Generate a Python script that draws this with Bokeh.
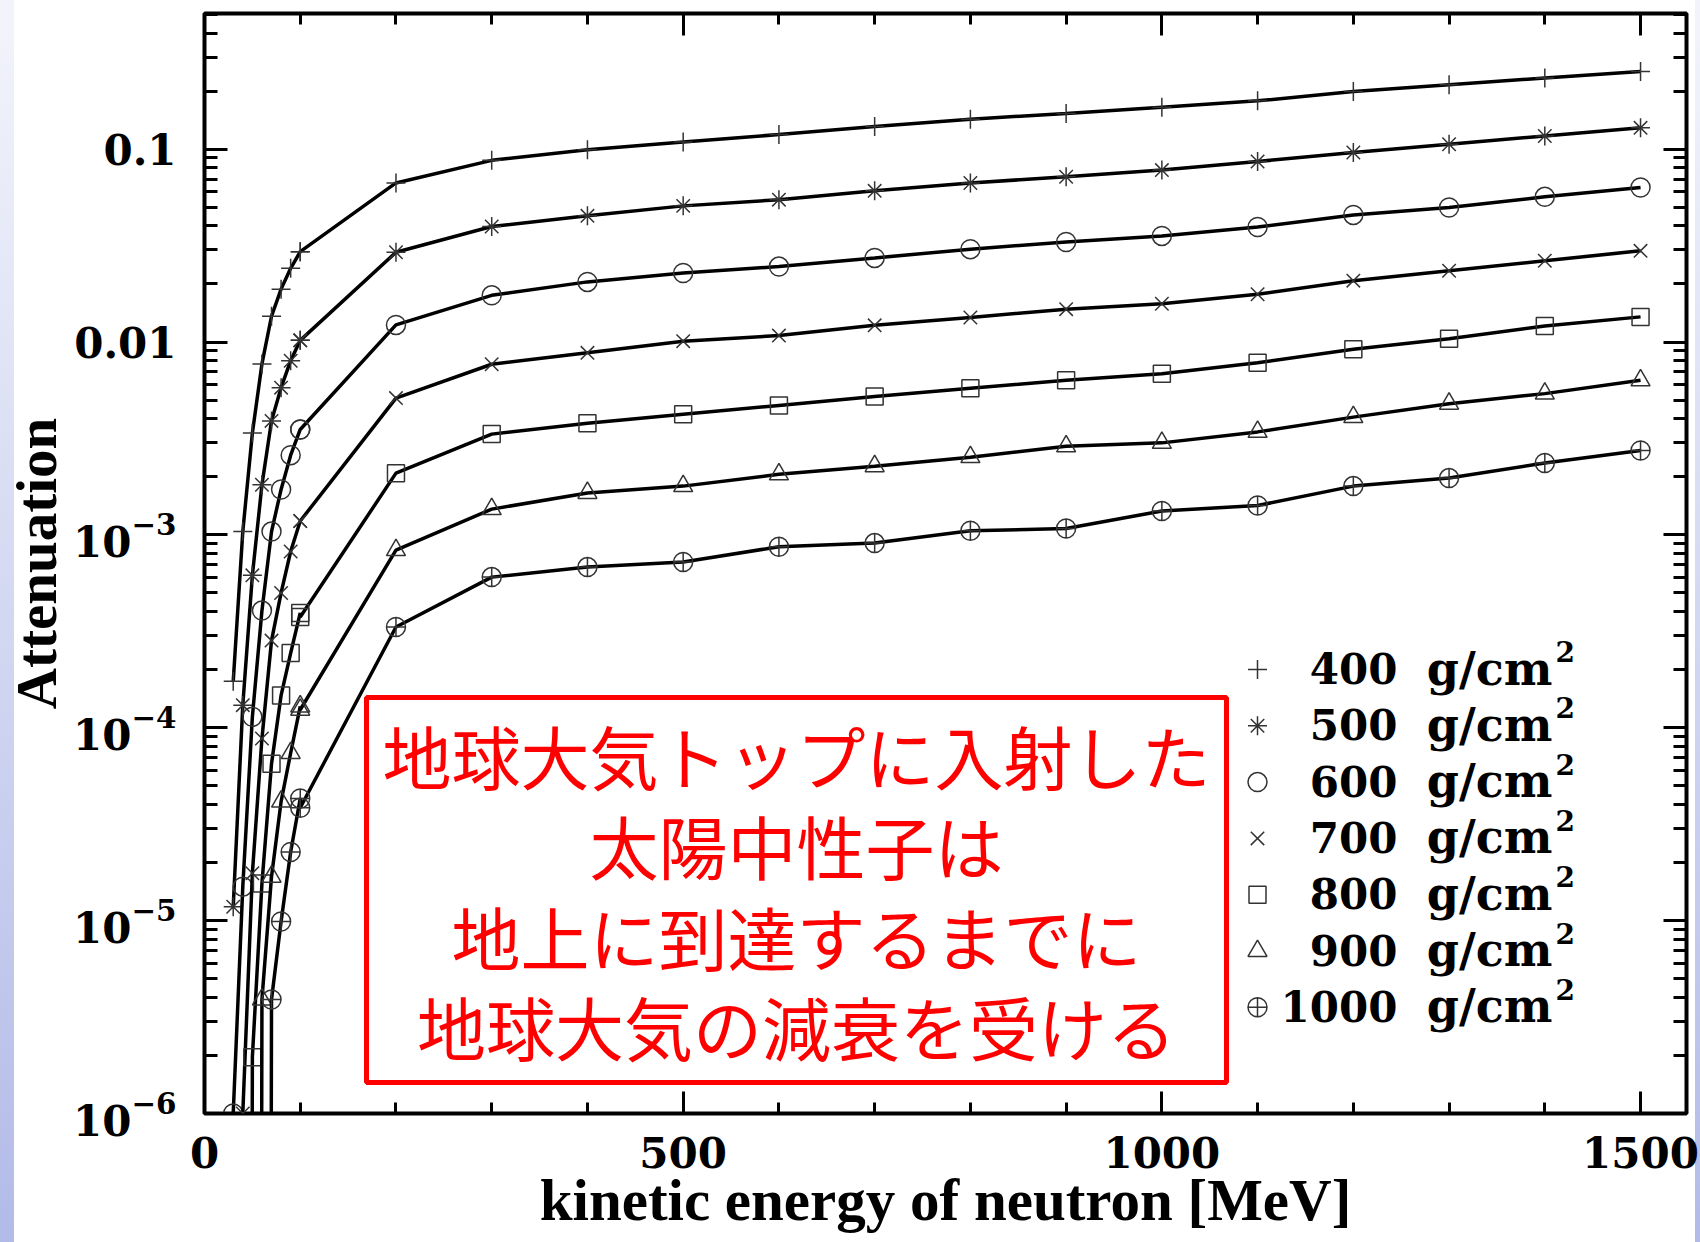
import math
from bokeh.plotting import figure
from bokeh.models import (LinearAxis, LogAxis, SingleIntervalTicker, LogTicker,
                          LogTickFormatter, BoxAnnotation, Label, Range1d,
                          CustomJSTickFormatter)
from bokeh.embed import file_html
from bokeh.resources import INLINE

# ---------------- data ----------------
energy_low = [30, 40, 50, 60, 70, 80, 90, 100]
energy_high = [100, 200, 300, 400, 500, 600, 700, 800, 900, 1000,
               1100, 1200, 1300, 1400, 1500]

depth_labels = ["400", "500", "600", "700", "800", "900", "1000"]
unit_label = "g/cm"
unit_power = "2"
marker_kinds = ["cross", "asterisk", "circle", "x", "square", "triangle", "circle_cross"]

BELOW = 1e-30   # point far below the plotted range: the curve drops off the axis

att_400_low = [1.74e-4, 1.04e-3, 3.37e-3, 7.7e-3, 1.36e-2, 1.88e-2, 2.41e-2, 2.94e-2]
att_400_high = [2.94e-2, 0.0668, 0.0875, 0.0993, 0.109, 0.119, 0.131, 0.143, 0.153,
                0.165, 0.178, 0.199, 0.216, 0.234, 0.253]
att_500_low = [1.18e-5, 1.31e-4, 6.17e-4, 1.82e-3, 3.9e-3, 5.8e-3, 8.0e-3, 1.02e-2]
att_500_high = [1.02e-2, 0.0292, 0.0397, 0.0451, 0.0508, 0.0547, 0.0608, 0.0668, 0.0719,
                0.0779, 0.0863, 0.0961, 0.106, 0.117, 0.129]
att_600_low = [1.0e-6, 1.5e-5, 1.14e-4, 4.05e-4, 1.04e-3, 1.72e-3, 2.59e-3, 3.52e-3]
att_600_high = [3.52e-3, 0.01227, 0.01746, 0.0205, 0.0228, 0.0246, 0.0273, 0.0303, 0.033,
                0.0355, 0.0395, 0.0456, 0.0498, 0.0566, 0.0633]
att_700_low = [None, 1.0e-6, 1.76e-5, 8.8e-5, 2.83e-4, 5.0e-4, 8.2e-4, 1.18e-3]
att_700_high = [1.18e-3, 0.00512, 0.00767, 0.00879, 0.0101, 0.0108, 0.0122, 0.0134, 0.0148,
                0.0158, 0.0177, 0.0208, 0.0234, 0.0264, 0.0297]
att_800_low = [None, BELOW, 1.96e-6, 1.56e-5, 6.5e-5, 1.47e-4, 2.44e-4, 3.94e-4]
att_800_high = [3.75e-4, 0.00209, 0.00333, 0.00379, 0.00422, 0.00469, 0.00522, 0.00576,
                0.00633, 0.00685, 0.00781, 0.00917, 0.0104, 0.0121, 0.0135]
att_900_low = [None, None, BELOW, 3.9e-6, 1.69e-5, 4.14e-5, 7.4e-5, 1.29e-4]
att_900_high = [1.24e-4, 0.000834, 0.00136, 0.00165, 0.00179, 0.00206, 0.00227, 0.00253,
                0.00288, 0.003, 0.00342, 0.00408, 0.00479, 0.0054, 0.00633]
att_1000_low = [None, None, None, BELOW, 3.9e-6, 9.9e-6, 2.27e-5, 4.3e-5]
att_1000_high = [3.85e-5, 0.000333, 0.000604, 0.000681, 0.000723, 0.000868, 0.000907,
                 0.00105, 0.00108, 0.00133, 0.00142, 0.00179, 0.00197, 0.00236, 0.00274]

series_low = [att_400_low, att_500_low, att_600_low, att_700_low,
              att_800_low, att_900_low, att_1000_low]
series_high = [att_400_high, att_500_high, att_600_high, att_700_high,
               att_800_high, att_900_high, att_1000_high]

note_lines = ["地球大気トップに入射した", "太陽中性子は", "地上に到達するまでに", "地球大気の減衰を受ける"]

x_title = "kinetic energy of neutron [MeV]"
y_title = "Attenuation"

# ---------------- layout constants ----------------
X_START, X_END = 0, 1548
Y_START, Y_END = 1e-6, 0.505
FRAME_W, FRAME_H = 1482, 1100
B_LEFT, B_RIGHT, B_TOP, B_BOTTOM = 204, 14, 13, 129
PAGE = 0  # the page template has no body margin


def px_x(page_x):
    return X_START + (page_x - PAGE - B_LEFT) / FRAME_W * (X_END - X_START)


def px_y(page_y):
    lt, lb = math.log10(Y_END), math.log10(Y_START)
    return 10 ** (lt - (page_y - PAGE - B_TOP) / FRAME_H * (lt - lb))


p = figure(frame_width=FRAME_W, frame_height=FRAME_H,
           x_range=Range1d(X_START, X_END), y_range=Range1d(Y_START, Y_END),
           y_axis_type="log", output_backend="svg", toolbar_location=None,
           min_border_left=B_LEFT, min_border_right=B_RIGHT,
           min_border_top=B_TOP, min_border_bottom=B_BOTTOM,
           background_fill_color="white", border_fill_color=None,
           outline_line_color="black", outline_line_width=4)
p.styles = {"background": ("linear-gradient(to bottom, #f3f4fb, #b2bbe8) 0 0 / 14px 100% no-repeat, "
                           "linear-gradient(to bottom, #f3f4fb, #b2bbe8) 100% 0 / 5px 100% no-repeat, "
                           "#ffffff")}
p.grid.visible = False

TICK_FONT = "DejaVu Serif"
LABEL_FONT = "Liberation Serif"


def style_axis(ax, major_in, minor_in):
    ax.major_tick_in = major_in
    ax.major_tick_out = 0
    ax.minor_tick_in = minor_in
    ax.minor_tick_out = 0
    ax.major_tick_line_width = 3
    ax.minor_tick_line_width = 3
    ax.major_tick_line_color = "black"
    ax.minor_tick_line_color = "black"
    ax.axis_line_color = None
    ax.major_label_text_font = TICK_FONT
    ax.major_label_text_font_style = "bold"
    ax.major_label_text_font_size = "42px"
    ax.major_label_text_color = "black"
    ax.axis_label_text_font = LABEL_FONT
    ax.axis_label_text_font_style = "bold"
    ax.axis_label_text_color = "black"


xb = p.xaxis[0]
xb.ticker = SingleIntervalTicker(interval=500, num_minor_ticks=5)
style_axis(xb, 22, 11)
xb.major_label_standoff = 23
xb.axis_label = x_title
xb.axis_label_text_font_size = "59px"
xb.axis_label_standoff = -4

yl = p.yaxis[0]
yl.ticker = LogTicker(num_minor_ticks=10)
yl.formatter = LogTickFormatter(min_exponent=3)
style_axis(yl, 23, 13)
yl.major_label_standoff = 28
yl.axis_label = y_title
yl.axis_label_text_font_size = "57px"
yl.axis_label_standoff = 2

blank = CustomJSTickFormatter(code="return ''")
xt = LinearAxis(ticker=SingleIntervalTicker(interval=500, num_minor_ticks=5), formatter=blank)
style_axis(xt, 22, 11)
xt.major_label_text_font_size = "0px"
xt.major_label_standoff = 0
p.add_layout(xt, "above")

yr = LogAxis(ticker=LogTicker(num_minor_ticks=10), formatter=blank)
style_axis(yr, 23, 13)
yr.major_label_text_font_size = "0px"
yr.major_label_standoff = 0
p.add_layout(yr, "right")

# ---------------- curves ----------------
for low, high, mk in zip(series_low, series_high, marker_kinds):
    xs, ys = [], []
    for e, v in zip(energy_low + energy_high, low + high):
        if v is not None:
            xs.append(e)
            ys.append(v)
    p.line(xs, ys, line_color="black", line_width=3.5)
    p.scatter(xs, ys, marker=mk, size=17 if mk == "square" else 19,
              line_color="#333333", fill_color=None, line_width=1.5)

# ---------------- annotation box ----------------
p.add_layout(BoxAnnotation(left=px_x(366), right=px_x(1226), top=px_y(697), bottom=px_y(1082),
                           fill_alpha=0, line_color="#ff0000", line_alpha=1.0, line_width=5))
for i, line in enumerate(note_lines):
    p.add_layout(Label(x=px_x(796), y=px_y(754 + i * 90.5), text=line,
                       text_align="center", text_baseline="middle",
                       text_font="Noto Sans CJK JP", text_font_size="69px",
                       text_color="#ff0000"))

# ---------------- legend ----------------
for i, (lab, mk) in enumerate(zip(depth_labels, marker_kinds)):
    row = 669 + i * 56.3
    p.scatter([px_x(1257)], [px_y(row)], marker=mk, size=17 if mk == "square" else 19,
              line_color="#333333", fill_color=None, line_width=1.5)
    p.add_layout(Label(x=px_x(1397), y=px_y(row - 1), text=lab, text_align="right",
                       text_baseline="alphabetic", text_font=TICK_FONT, text_color="black",
                       text_font_style="bold", text_font_size="42px"))
    p.add_layout(Label(x=px_x(1552), y=px_y(row - 1), text=unit_label, text_align="right",
                       text_baseline="alphabetic", text_font=TICK_FONT, text_color="black",
                       text_font_style="bold", text_font_size="46px"))
    p.add_layout(Label(x=px_x(1555), y=px_y(row - 18), text=unit_power, text_align="left",
                       text_baseline="alphabetic", text_font=TICK_FONT, text_color="black",
                       text_font_style="bold", text_font_size="28px"))

open("out.html", "w").write(file_html(p, INLINE, title="Attenuation"))
